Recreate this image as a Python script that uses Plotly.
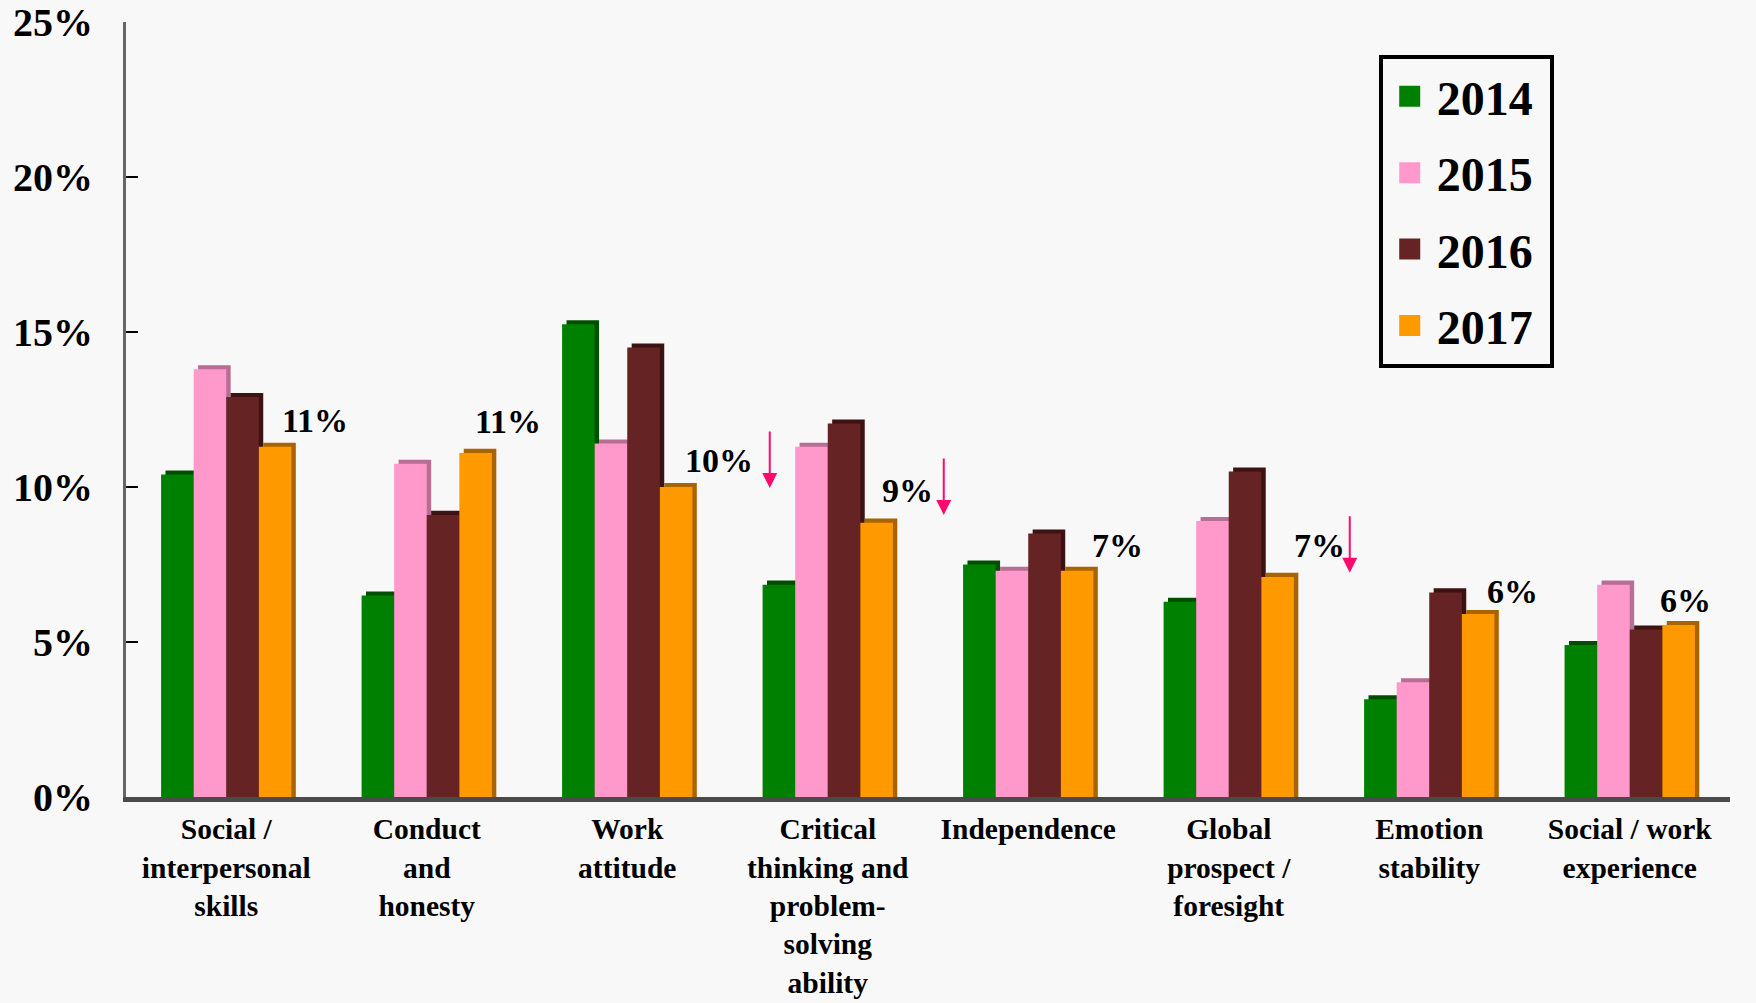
import plotly.graph_objects as go

categories = [
    "Social /<br>interpersonal<br>skills",
    "Conduct<br>and<br>honesty",
    "Work<br>attitude",
    "Critical<br>thinking and<br>problem-<br>solving<br>ability",
    "Independence",
    "Global<br>prospect /<br>foresight",
    "Emotion<br>stability",
    "Social / work<br>experience",
]
years = ["2014", "2015", "2016", "2017"]
v2014 = [10.4, 6.5, 15.25, 6.85, 7.5, 6.3, 3.15, 4.9]
v2015 = [13.8, 10.75, 11.4, 11.3, 7.3, 8.9, 3.7, 6.85]
v2016 = [12.9, 9.1, 14.5, 12.05, 8.5, 10.5, 6.6, 5.4]
v2017 = [11.3, 11.1, 10.0, 8.85, 7.3, 7.1, 5.9, 5.55]
labels_2017 = ["11%", "11%", "10%", "9%", "7%", "7%", "6%", "6%"]

series = [v2014, v2015, v2016, v2017]
front_colors = ["#008000", "#ff99cc", "#652323", "#ff9900"]
side_colors = ["#004f00", "#b86d92", "#3c1212", "#a86400"]

# label placement (pixels relative to category centre / bar top)
label_dx = [89, 81, 92, 80, 89, 91, 83, 56]
label_dy = [26, 31, 27, 32, 25, 31, 23, 24]

# decrease arrows: (category index, x shift px, tip value %)
arrow_cat = [3, 3, 5]
arrow_dx = [-58, 116, 121]
arrow_tip = [9.97, 9.1, 7.23]

FONT = "Liberation Serif"
bar_w = 0.1625
start = -0.325
depth_x = 0.022
depth_y = 0.13

fig = go.Figure()
# 3D side/top faces first
for i, vals in enumerate(series):
    fig.add_trace(go.Bar(
        x=categories, y=[v + depth_y for v in vals],
        width=bar_w, offset=start + i * bar_w + depth_x,
        marker=dict(color=side_colors[i], line=dict(width=0)),
        showlegend=False, hoverinfo="skip"))
# front faces
for i, vals in enumerate(series):
    fig.add_trace(go.Bar(
        x=categories, y=vals, name=years[i],
        width=bar_w, offset=start + i * bar_w,
        marker=dict(color=front_colors[i], line=dict(width=0)),
        showlegend=False))
# legend proxies
for i, yr in enumerate(years):
    fig.add_trace(go.Scatter(
        x=[None], y=[None], mode="markers", name=yr + "&nbsp;", legendgroup=yr,
        marker=dict(symbol="square", size=22, color=front_colors[i],
                    line=dict(color=front_colors[i], width=5))))

annotations = []
for k, cat in enumerate(categories):
    annotations.append(dict(
        x=cat, y=v2017[k], xref="x", yref="y", text=labels_2017[k],
        showarrow=False, xshift=label_dx[k], yshift=label_dy[k],
        yanchor="middle", xanchor="center",
        font=dict(family=FONT, size=34, color="black", weight="bold")))
for k in range(len(arrow_cat)):
    annotations.append(dict(
        x=categories[arrow_cat[k]], y=arrow_tip[k], xref="x", yref="y",
        text="", showarrow=True, arrowhead=2, arrowsize=1.5, arrowwidth=2,
        arrowcolor="#ff0a6c", ax=0, ay=-58, xshift=arrow_dx[k], standoff=0))

fig.update_layout(
    barmode="overlay",
    width=1756, height=1003,
    margin=dict(l=126, r=26, t=22, b=206, autoexpand=False),
    paper_bgcolor="#f8f8f8", plot_bgcolor="#f8f8f8",
    font=dict(family=FONT, color="black"),
    annotations=annotations,
    legend=dict(
        x=0.781, y=0.958, xanchor="left", yanchor="top",
        bgcolor="#f8f8f8", bordercolor="black", borderwidth=4,
        font=dict(family=FONT, size=48, color="black", weight="bold"),
        tracegroupgap=11, itemwidth=44,
    ),
    xaxis=dict(
        type="category", showgrid=False, showline=True, linecolor="#4a4a4a",
        linewidth=5, ticks="", ticklabelstandoff=2, automargin=False,
        tickfont=dict(family=FONT, size=29.5, color="black", weight="bold"),
        zeroline=False,
    ),
    yaxis=dict(
        range=[0, 25], dtick=5, ticksuffix="%", showgrid=False,
        showline=True, linecolor="#666666", linewidth=3,
        ticks="inside", ticklen=12, tickwidth=2, tickcolor="black",
        ticklabelstandoff=22, zeroline=False, automargin=False,
        tickfont=dict(family=FONT, size=40, color="black", weight="bold"),
    ),
)

fig.write_html("out.html")
